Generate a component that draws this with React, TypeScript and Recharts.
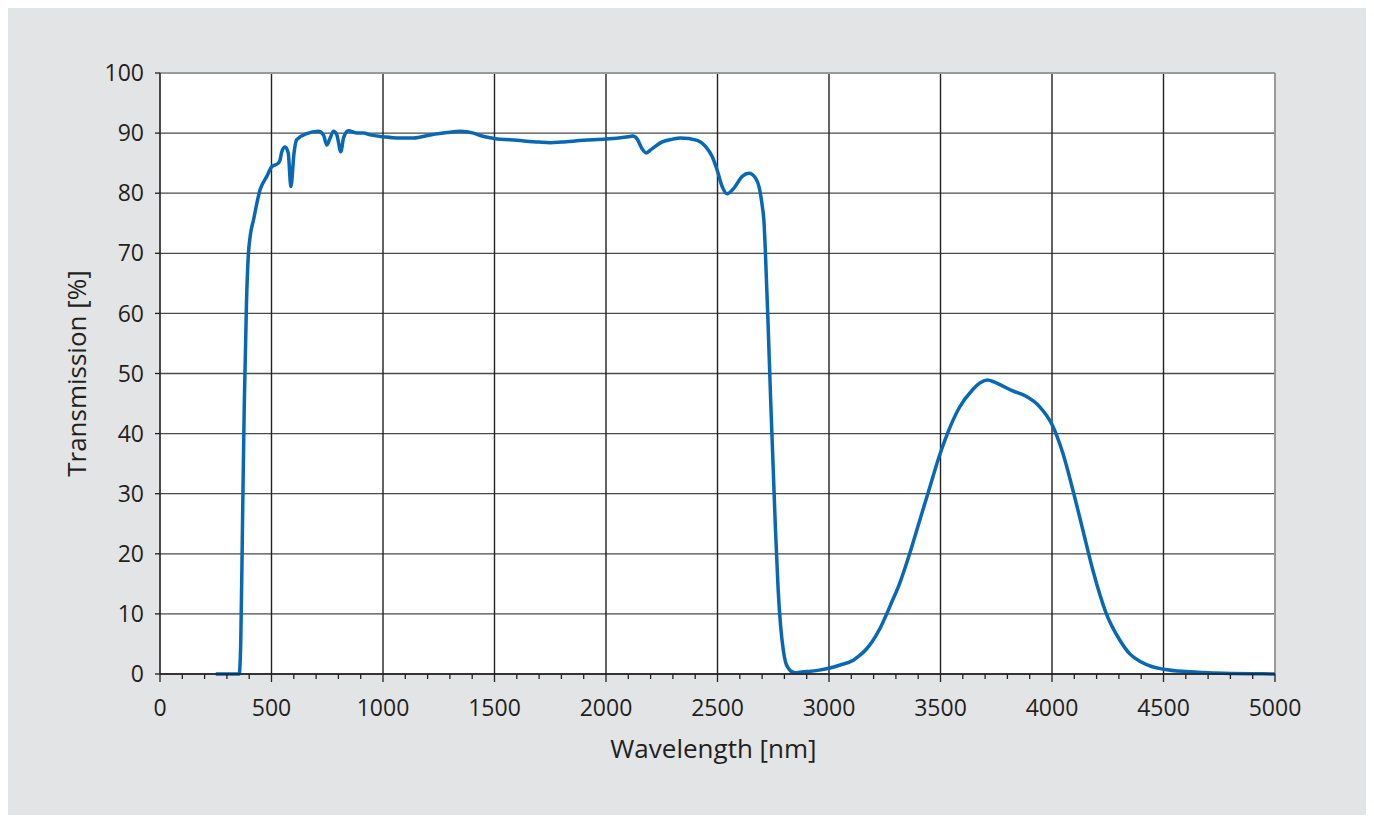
import { LineChart, Line, XAxis, YAxis, CartesianGrid, ReferenceLine, Label } from 'recharts';

const wavelength = [
  250, 300, 355, 362, 370, 378, 388, 395, 405, 419,
  449, 479, 501, 531, 539, 546, 561, 575, 587, 601,
  613, 658, 710, 733, 748, 763, 778, 793, 811, 823,
  845, 883, 913, 943, 1002, 1062, 1137, 1212, 1287, 1347,
  1406, 1436, 1500, 1600, 1700, 1750, 1800, 1900, 2000, 2100,
  2120, 2140, 2160, 2180, 2200, 2250, 2300, 2334, 2409, 2446,
  2476, 2498, 2521, 2543, 2573, 2611, 2641, 2671, 2686, 2701,
  2708, 2715, 2727, 2738, 2750, 2760, 2772, 2783, 2795, 2805,
  2817, 2828, 2850, 2869, 2900, 2950, 3004, 3050, 3109, 3135,
  3169, 3194, 3229, 3254, 3283, 3314, 3358, 3403, 3449, 3494,
  3531, 3584, 3644, 3680, 3711, 3740, 3764, 3824, 3884, 3944,
  4000, 4048, 4093, 4138, 4183, 4243, 4303, 4350, 4400, 4450,
  4500, 4600, 4700, 4800, 4900, 5000,
];

const transmission = [
  0, 0, 0, 5, 25, 45, 62, 69, 73, 75.5,
  80.6, 82.8, 84.4, 85, 85.6, 86.9, 87.7, 86.7, 81.1, 86.7,
  88.9, 89.9, 90.3, 89.7, 88, 89.2, 90.3, 89.7, 86.9, 89.2,
  90.4, 90, 90, 89.7, 89.4, 89.2, 89.2, 89.7, 90.1, 90.3,
  90, 89.6, 89.1, 88.8, 88.5, 88.4, 88.5, 88.8, 89, 89.4,
  89.5, 89, 87.5, 86.7, 87.2, 88.5, 89, 89.2, 88.8, 87.8,
  86.1, 83.9, 81.1, 79.9, 80.8, 82.8, 83.3, 82.5, 81.1, 77.8,
  75.5, 70, 58, 46, 34, 24, 14, 8, 4, 2,
  1, 0.5, 0.2, 0.3, 0.4, 0.6, 1, 1.5, 2.3, 3,
  4.2, 5.4, 7.6, 9.6, 12.1, 14.8, 19.6, 25.1, 30.7, 36.2,
  40, 44.3, 47.3, 48.5, 48.9, 48.6, 48.2, 47.1, 46.2, 44.5,
  41.5, 36.8, 30.7, 24, 17.3, 10.1, 5.7, 3.3, 2, 1.2,
  0.8, 0.4, 0.2, 0.1, 0.05, 0,
];

const xTicks = [
  0, 100, 200, 300, 400, 500, 600, 700, 800, 900,
  1000, 1100, 1200, 1300, 1400, 1500, 1600, 1700, 1800, 1900,
  2000, 2100, 2200, 2300, 2400, 2500, 2600, 2700, 2800, 2900,
  3000, 3100, 3200, 3300, 3400, 3500, 3600, 3700, 3800, 3900,
  4000, 4100, 4200, 4300, 4400, 4500, 4600, 4700, 4800, 4900, 5000,
];
const xGrid = [500, 1000, 1500, 2000, 2500, 3000, 3500, 4000, 4500];
const yTicks = [0, 10, 20, 30, 40, 50, 60, 70, 80, 90, 100];

const data = wavelength.map((w, i) => ({ w, t: transmission[i] }));

const FONT = '"Open Sans", "Noto Sans", sans-serif';
const INK = '#231f20';

const XTick = ({ x, y, payload }: any) => {
  const major = payload.value % 500 === 0;
  return (
    <g>
      <line x1={x} x2={x} y1={y} y2={y + (major ? 8 : 5)} stroke={INK} strokeWidth={1.3} />
      {major && (
        <text x={x} y={y + 42} textAnchor="middle" fill={INK} fontSize={23} fontFamily={FONT}>
          {payload.value}
        </text>
      )}
    </g>
  );
};

export default function App() {
  return (
    <div style={{ width: 1363, height: 810, background: '#e3e4e6', position: 'relative', top: -3 }}>
      <LineChart
        width={1363}
        height={810}
        data={data}
        margin={{ top: 68, right: 96, left: 62, bottom: 81 }}
        style={{ fontFamily: FONT }}
      >
        <CartesianGrid vertical={false} stroke="#4a4a4a" strokeWidth={1.3} fill="#ffffff" />
        {xGrid.map((v) => (
          <ReferenceLine key={v} x={v} stroke="#222222" strokeWidth={1.4} />
        ))}
        <ReferenceLine x={5000} stroke="#9a9a9a" strokeWidth={2} />
        <ReferenceLine y={100} stroke="#9a9a9a" strokeWidth={2} />
        <XAxis
          dataKey="w"
          type="number"
          domain={[0, 5000]}
          ticks={xTicks}
          interval={0}
          height={60}
          tickSize={0}
          tickMargin={0}
          tickLine={false}
          axisLine={{ stroke: INK, strokeWidth: 1.6 }}
          tick={<XTick />}
        >
          <Label
            content={({ viewBox }: any) => (
              <text
                x={viewBox.x + viewBox.width / 2 - 4}
                y={viewBox.y + 84}
                textAnchor="middle"
                fill={INK}
                fontSize={26}
                fontFamily={FONT}
              >
                Wavelength [nm]
              </text>
            )}
          />
        </XAxis>
        <YAxis
          type="number"
          domain={[0, 100]}
          ticks={yTicks}
          interval={0}
          width={90}
          tickSize={5}
          tickMargin={11}
          tickLine={{ stroke: INK, strokeWidth: 1.3 }}
          axisLine={{ stroke: INK, strokeWidth: 1.6 }}
          tick={{ fill: INK, fontSize: 23, fontFamily: FONT }}
        >
          <Label
            content={({ viewBox }: any) => {
              const cx = viewBox.x + 16;
              const cy = viewBox.y + viewBox.height / 2;
              return (
                <text
                  x={cx}
                  y={cy}
                  transform={`rotate(-90 ${cx} ${cy})`}
                  textAnchor="middle"
                  fill={INK}
                  fontSize={26}
                  fontFamily={FONT}
                >
                  Transmission [%]
                </text>
              );
            }}
          />
        </YAxis>
        <Line
          type="monotone"
          dataKey="t"
          stroke="#0868b3"
          strokeWidth={3.5}
          dot={false}
          activeDot={false}
          isAnimationActive={false}
        />
      </LineChart>
    </div>
  );
}
